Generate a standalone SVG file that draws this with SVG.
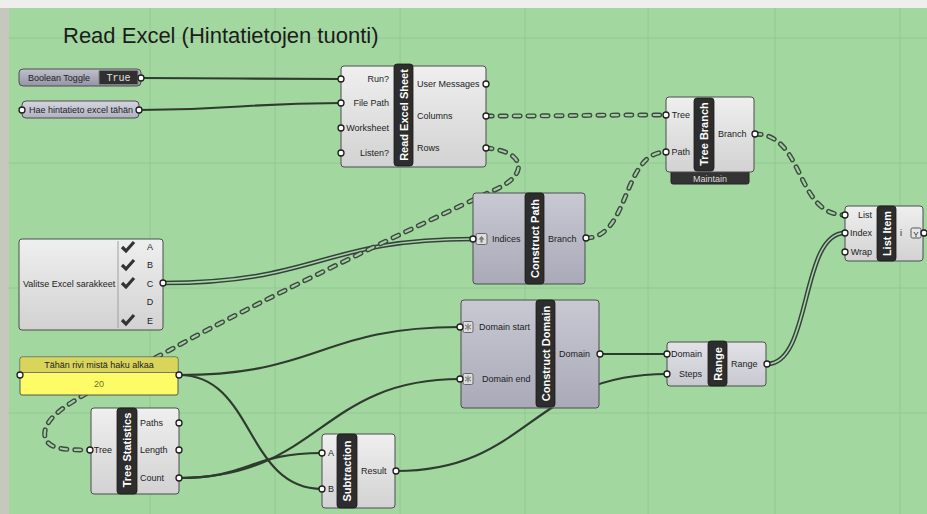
<svg xmlns="http://www.w3.org/2000/svg" width="927" height="514" viewBox="0 0 927 514">
<defs>
<linearGradient id="gGray" x1="0" y1="0" x2="0" y2="1"><stop offset="0" stop-color="#efefef"/><stop offset="1" stop-color="#d2d2d2"/></linearGradient>
<linearGradient id="gLav" x1="0" y1="0" x2="0" y2="1"><stop offset="0" stop-color="#c9c9d4"/><stop offset="1" stop-color="#a9a9b8"/></linearGradient>
<linearGradient id="gLavL" x1="0" y1="0" x2="0" y2="1"><stop offset="0" stop-color="#e2e2e8"/><stop offset="1" stop-color="#c8c8d0"/></linearGradient>
<linearGradient id="gTog" x1="0" y1="0" x2="0" y2="1"><stop offset="0" stop-color="#c0c0ce"/><stop offset="1" stop-color="#9494a4"/></linearGradient>
<linearGradient id="gParam" x1="0" y1="0" x2="0" y2="1"><stop offset="0" stop-color="#d6d6e2"/><stop offset="1" stop-color="#b0b0c0"/></linearGradient>
<path id="w1" d="M141,78 C240,78 240,79 341,79"/>
<path id="w2" d="M139,110 C240,110 240,103 341,103"/>
<path id="w3" d="M486,116 C576,116 576,115 666,115"/>
<path id="w4" d="M486,148 C525,151 532,175 490,192 C430,220 260,300 170,350 C100,388 40,410 45,437 C48,450 68,450 90,450"/>
<path id="w5" d="M163,283 C320,283 320,239 473,239"/>
<path id="w6" d="M586,238 C630,238 622,152 666,152"/>
<path id="w7" d="M755,134 C805,134 795,215 845,215"/>
<path id="w8" d="M767,364 C812,364 800,233 845,233"/>
<path id="w9" d="M600,354 C630,354 637,354 667,354"/>
<path id="w10" d="M396,471 C530,471 530,374 667,374"/>
<path id="w11" d="M179,375 C320,375 320,327 460,327"/>
<path id="w12" d="M179,375 C255,375 245,489 322,489"/>
<path id="w13" d="M179,478 C250,478 250,453 322,453"/>
<path id="w14" d="M179,478 C320,478 320,379 460,379"/>
<path id="chk" d="M-6,-1 L-2,3 L6,-6"/>
</defs>
<style>
.box{stroke:#4d4d4d;stroke-width:1}
.gray{fill:url(#gGray)}
.lav{fill:url(#gLav)}
.lavl{fill:url(#gLavL)}
.strip{fill:#2d2d2d;stroke:#1a1a1a;stroke-width:0.8}
.lbl{font-family:"Liberation Sans",Arial,sans-serif;font-size:9px;fill:#222}
.end{text-anchor:end}
.mid{text-anchor:middle}
.ttl{font-family:"Liberation Sans",Arial,sans-serif;font-size:11px;font-weight:bold;fill:#fff;text-anchor:middle}
.port{fill:#fff;stroke:#1e1e1e;stroke-width:1.3}
.w{fill:none;stroke:#2f3b2f;stroke-width:2.2}
.wo{fill:none;stroke:#33423a;stroke-width:4.6}
.wi{fill:none;stroke:#a9d2a9;stroke-width:1.6}
.do{fill:none;stroke:#3b4b3e;stroke-width:5;stroke-dasharray:6 8;stroke-linecap:round}
.di{fill:none;stroke:#a6cca6;stroke-width:2.2;stroke-dasharray:6 8;stroke-linecap:round}
.grid{stroke:#92c892;stroke-width:1}
.chk{fill:none;stroke:#333;stroke-width:3.2}
</style>
<rect x="0" y="0" width="927" height="514" fill="#eeeeec"/>
<rect x="0" y="8" width="9" height="506" fill="#c6c8bd"/>
<rect x="9" y="8" width="918" height="506" fill="#a2d7a0"/>
<g id="grid">
<line class="grid" x1="150" y1="8" x2="150" y2="514"/>
<line class="grid" x1="275" y1="8" x2="275" y2="514"/>
<line class="grid" x1="400" y1="8" x2="400" y2="514"/>
<line class="grid" x1="525" y1="8" x2="525" y2="514"/>
<line class="grid" x1="648" y1="8" x2="648" y2="514"/>
<line class="grid" x1="775" y1="8" x2="775" y2="514"/>
<line class="grid" x1="900" y1="8" x2="900" y2="514"/>
<line class="grid" x1="9" y1="38" x2="927" y2="38"/>
<line class="grid" x1="9" y1="163" x2="927" y2="163"/>
<line class="grid" x1="9" y1="288" x2="927" y2="288"/>
<line class="grid" x1="9" y1="413" x2="927" y2="413"/>
</g>
<text x="63" y="43" font-family="'Liberation Sans',Arial,sans-serif" font-size="22" fill="#1c1c1c">Read Excel (Hintatietojen tuonti)</text>

<g id="connectors">
<use href="#w1" class="w"/>
<use href="#w2" class="w"/>
<use href="#w9" class="w"/>
<use href="#w10" class="w"/>
<use href="#w11" class="w"/>
<use href="#w12" class="w"/>
<use href="#w13" class="w"/>
<use href="#w14" class="w"/>
<use href="#w5" class="wo"/><use href="#w5" class="wi"/>
<use href="#w8" class="wo"/><use href="#w8" class="wi"/>
<use href="#w3" class="do"/><use href="#w3" class="di"/>
<use href="#w4" class="do"/><use href="#w4" class="di"/>
<use href="#w6" class="do"/><use href="#w6" class="di"/>
<use href="#w7" class="do"/><use href="#w7" class="di"/>
</g>

<g id="boolean-toggle">
<rect x="19" y="69" width="122" height="17" rx="4" fill="url(#gTog)" class="box"/>
<text class="lbl" x="28" y="80.5">Boolean Toggle</text>
<rect x="99" y="70.5" width="39" height="14" rx="1" fill="#303030" stroke="#808080" stroke-width="1"/>
<text x="118.5" y="81" font-family="'Liberation Mono','Courier New',monospace" font-size="10" fill="#e2e2e2" text-anchor="middle">True</text>
<circle class="port" cx="141" cy="78" r="3"/>
</g>

<g id="file-path">
<rect x="22" y="101" width="117" height="17" rx="4" fill="url(#gParam)" class="box"/>
<text class="lbl" x="29" y="112.5">Hae hintatieto excel tähän</text>
<circle class="port" cx="22" cy="110" r="3"/>
<circle class="port" cx="139" cy="110" r="3"/>
</g>

<g id="read-excel-sheet">
<rect x="341" y="66" width="145" height="101" rx="3" class="box gray"/>
<rect x="394" y="64" width="19" height="102" rx="3" class="strip"/>
<text class="ttl" transform="translate(403.5,115) rotate(-90)" dy="4">Read Excel Sheet</text>
<text class="lbl end" x="389" y="82">Run?</text>
<text class="lbl end" x="389" y="106">File Path</text>
<text class="lbl end" x="389" y="131">Worksheet</text>
<text class="lbl end" x="389" y="156">Listen?</text>
<text class="lbl" x="417" y="87">User Messages</text>
<text class="lbl" x="417" y="119">Columns</text>
<text class="lbl" x="417" y="151">Rows</text>
<circle class="port" cx="341" cy="79" r="3"/>
<circle class="port" cx="341" cy="103" r="3"/>
<circle class="port" cx="341" cy="128" r="3"/>
<circle class="port" cx="341" cy="153" r="3"/>
<circle class="port" cx="486" cy="84" r="3"/>
<circle class="port" cx="486" cy="116" r="3"/>
<circle class="port" cx="486" cy="148" r="3"/>
</g>

<g id="tree-branch">
<rect x="671" y="166" width="78" height="18" rx="2" fill="#333" stroke="#222"/>
<text class="lbl mid" x="710" y="181.5" fill="#dcdcdc" style="fill:#dcdcdc">Maintain</text>
<rect x="666" y="97" width="88" height="75" rx="3" class="box gray"/>
<rect x="694" y="98" width="20" height="73" rx="3" class="strip"/>
<text class="ttl" transform="translate(704,134) rotate(-90)" dy="4">Tree Branch</text>
<text class="lbl end" x="690" y="118">Tree</text>
<text class="lbl end" x="690" y="155">Path</text>
<text class="lbl" x="718" y="137">Branch</text>
<circle class="port" cx="666" cy="115" r="3"/>
<circle class="port" cx="666" cy="152" r="3"/>
<circle class="port" cx="755" cy="134" r="3"/>
</g>

<g id="list-item">
<rect x="845" y="206" width="78" height="55" rx="3" class="box gray"/>
<rect x="877" y="206" width="19" height="55" rx="3" class="strip"/>
<text class="ttl" transform="translate(886.5,233.5) rotate(-90)" dy="4">List Item</text>
<text class="lbl end" x="872" y="218">List</text>
<text class="lbl end" x="872" y="236">Index</text>
<text class="lbl end" x="872" y="255">Wrap</text>
<text class="lbl" x="900" y="236">i</text>
<rect x="911" y="228" width="10" height="10" rx="1.5" fill="#e6e6e6" stroke="#555" stroke-width="1"/>
<text class="lbl mid" x="916" y="236.5" style="font-size:8px">Y</text>
<circle class="port" cx="845" cy="215" r="3"/>
<circle class="port" cx="845" cy="233" r="3"/>
<circle class="port" cx="845" cy="252" r="3"/>
<circle class="port" cx="924" cy="233" r="3"/>
</g>

<g id="construct-path">
<rect x="473" y="193" width="112" height="91" rx="3" class="box lav"/>
<rect x="525" y="193" width="19" height="91" rx="3" class="strip"/>
<text class="ttl" transform="translate(534.5,238.5) rotate(-90)" dy="4">Construct Path</text>
<rect x="476" y="233.5" width="11" height="11" rx="1.5" fill="#dedede" stroke="#666" stroke-width="1"/>
<path d="M481.5,236 L478.5,239.5 L480.5,239.5 L480.5,242.5 L482.5,242.5 L482.5,239.5 L484.5,239.5 Z" fill="#777"/>
<text class="lbl" x="492" y="242">Indices</text>
<text class="lbl" x="548" y="241.5">Branch</text>
<circle class="port" cx="473" cy="239" r="3"/>
<circle class="port" cx="586" cy="238" r="3"/>
</g>

<g id="value-list">
<rect x="19" y="239" width="144" height="91" rx="3" class="box gray"/>
<line x1="118" y1="241" x2="118" y2="328" stroke="#a0a0a0" stroke-width="1"/>
<text class="lbl" x="23" y="287">Valitse Excel sarakkeet</text>
<use href="#chk" class="chk" x="128" y="248"/>
<use href="#chk" class="chk" x="128" y="266"/>
<use href="#chk" class="chk" x="128" y="284"/>
<use href="#chk" class="chk" x="128" y="321"/>
<text class="lbl mid" x="150" y="250">A</text>
<text class="lbl mid" x="150" y="268">B</text>
<text class="lbl mid" x="150" y="286.5">C</text>
<text class="lbl mid" x="150" y="305">D</text>
<text class="lbl mid" x="150" y="323.5">E</text>
<circle class="port" cx="163" cy="283" r="3"/>
</g>

<g id="panel">
<rect x="20" y="357" width="158" height="38" rx="2" fill="#fdfc66" stroke="#555" stroke-width="1"/>
<rect x="20.5" y="357.5" width="157" height="15" rx="1.5" fill="#d8d55a"/>
<line x1="20" y1="372.5" x2="178" y2="372.5" stroke="#777" stroke-width="1"/>
<text class="lbl mid" x="99" y="368">Tähän rivi mistä haku alkaa</text>
<text class="lbl mid" x="99" y="386.5" style="fill:#6e6e1c">20</text>
<circle class="port" cx="20" cy="375" r="3"/>
<circle class="port" cx="179" cy="375" r="3"/>
</g>

<g id="tree-statistics">
<rect x="91" y="408" width="88" height="86" rx="3" class="box gray"/>
<rect x="117" y="408" width="20" height="86" rx="3" class="strip"/>
<text class="ttl" transform="translate(127,450) rotate(-90)" dy="4">Tree Statistics</text>
<text class="lbl end" x="112" y="453">Tree</text>
<text class="lbl" x="140" y="426">Paths</text>
<text class="lbl" x="140" y="453">Length</text>
<text class="lbl" x="140" y="481">Count</text>
<circle class="port" cx="90" cy="450" r="3"/>
<circle class="port" cx="179" cy="423" r="3"/>
<circle class="port" cx="179" cy="450" r="3"/>
<circle class="port" cx="179" cy="478" r="3"/>
</g>

<g id="construct-domain">
<rect x="461" y="300" width="138" height="108" rx="3" class="box lav"/>
<rect x="536" y="300" width="19" height="107" rx="3" class="strip"/>
<text class="ttl" transform="translate(545.5,353.5) rotate(-90)" dy="4">Construct Domain</text>
<rect x="463" y="321.5" width="10" height="11" rx="1.5" fill="#dedede" stroke="#666" stroke-width="1"/>
<path d="M468,323.5 L468,330.5 M465,325 L471,329 M471,325 L465,329" stroke="#888" stroke-width="1.3"/>
<rect x="463" y="373.5" width="10" height="11" rx="1.5" fill="#dedede" stroke="#666" stroke-width="1"/>
<path d="M468,375.5 L468,382.5 M465,377 L471,381 M471,377 L465,381" stroke="#888" stroke-width="1.3"/>
<text class="lbl" x="479" y="330">Domain start</text>
<text class="lbl" x="482" y="382">Domain end</text>
<text class="lbl" x="559" y="357">Domain</text>
<circle class="port" cx="460" cy="327" r="3"/>
<circle class="port" cx="460" cy="379" r="3"/>
<circle class="port" cx="600" cy="354" r="3"/>
</g>

<g id="range">
<rect x="667" y="342" width="99" height="44" rx="3" class="box lavl"/>
<rect x="708" y="341" width="19" height="45" rx="3" class="strip"/>
<text class="ttl" transform="translate(717.5,364) rotate(-90)" dy="4">Range</text>
<text class="lbl end" x="702" y="357">Domain</text>
<text class="lbl end" x="702" y="377">Steps</text>
<text class="lbl" x="731" y="367">Range</text>
<circle class="port" cx="667" cy="354" r="3"/>
<circle class="port" cx="667" cy="374" r="3"/>
<circle class="port" cx="767" cy="364" r="3"/>
</g>

<g id="subtraction">
<rect x="322" y="434" width="73" height="74" rx="3" class="box gray"/>
<rect x="337" y="434" width="20" height="74" rx="3" class="strip"/>
<text class="ttl" transform="translate(347,471) rotate(-90)" dy="4">Subtraction</text>
<text class="lbl" x="328" y="456">A</text>
<text class="lbl" x="328" y="492">B</text>
<text class="lbl" x="361" y="474">Result</text>
<circle class="port" cx="322" cy="453" r="3"/>
<circle class="port" cx="322" cy="489" r="3"/>
<circle class="port" cx="396" cy="471" r="3"/>
</g>
</svg>
